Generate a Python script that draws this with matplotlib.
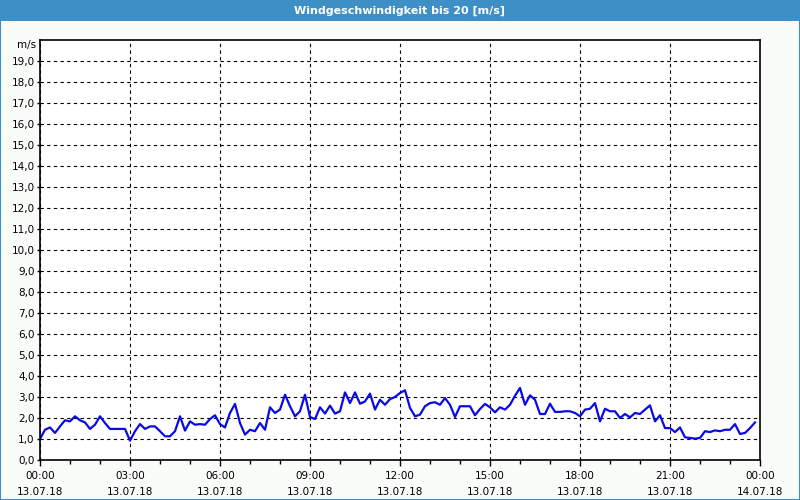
import matplotlib
matplotlib.use("Agg")
import matplotlib.pyplot as plt
import matplotlib.dates as mdates
import pandas as pd
from matplotlib.patches import Rectangle

title = "Windgeschwindigkeit bis 20 [m/s]"
unit = "m/s"

# 10-minute readings, 13.07.18 00:00 .. 23:50
speed = [
    1.00, 1.44, 1.55, 1.29, 1.60, 1.89, 1.84, 2.08, 1.89, 1.79, 1.48, 1.68,
    2.08, 1.76, 1.48, 1.48, 1.48, 1.48, 0.92, 1.37, 1.71, 1.48, 1.60, 1.60,
    1.37, 1.13, 1.13, 1.37, 2.08, 1.40, 1.84, 1.68, 1.71, 1.68, 1.95, 2.13,
    1.71, 1.55, 2.24, 2.67, 1.76, 1.21, 1.44, 1.37, 1.76, 1.44, 2.51, 2.24,
    2.40, 3.11, 2.56, 2.08, 2.32, 3.11, 2.05, 1.95, 2.51, 2.21, 2.59, 2.21,
    2.32, 3.22, 2.71, 3.22, 2.68, 2.79, 3.16, 2.40, 2.87, 2.63, 2.90, 3.00,
    3.19, 3.32, 2.48, 2.08, 2.16, 2.56, 2.71, 2.75, 2.63, 2.95, 2.63, 2.05,
    2.56, 2.56, 2.56, 2.13, 2.43, 2.67, 2.51, 2.27, 2.51, 2.40, 2.63, 3.06,
    3.43, 2.63, 3.08, 2.87, 2.19, 2.19, 2.68, 2.29, 2.29, 2.32, 2.32, 2.24,
    2.08, 2.40, 2.44, 2.71, 1.84, 2.44, 2.32, 2.32, 2.00, 2.19, 2.03, 2.24,
    2.19, 2.40, 2.60, 1.84, 2.13, 1.52, 1.52, 1.33, 1.55, 1.08, 1.05, 1.02,
    1.05, 1.37, 1.33, 1.41, 1.37, 1.44, 1.44, 1.71, 1.24, 1.29, 1.52, 1.79,
]
times = pd.date_range("2018-07-13 00:00", periods=len(speed), freq="10min")
start = pd.Timestamp("2018-07-13 00:00")
end = pd.Timestamp("2018-07-14 00:00")

blue = "#3d8fc6"

fig = plt.figure(figsize=(8, 5), dpi=100, facecolor="#fafcfa")
ax = fig.add_axes([0.05, 0.08, 0.90, 0.84])

# title bar and frame
fig.patches.append(Rectangle((0, 0.958), 1, 0.042, transform=fig.transFigure,
                             facecolor=blue, edgecolor="none"))
fig.patches.append(Rectangle((0.0006, 0.001), 0.9988, 0.998, transform=fig.transFigure,
                             facecolor="none", edgecolor=blue, linewidth=1.5))
fig.text(0.5, 0.979, title, color="white", fontsize=8, fontweight="bold",
         ha="center", va="center")

ax.plot(times, speed, color="#0a0ae6", linewidth=1.6)

ax.set_xlim(start, end)
ax.set_ylim(0, 20)
ax.set_facecolor("white")

ax.set_yticks(range(20))
ax.set_yticklabels([f"{v},0" for v in range(20)], fontsize=7.5)
ax.text(-0.005, 19.75, unit, transform=ax.get_yaxis_transform(), fontsize=7.5,
        ha="right", va="center")

ax.xaxis.set_major_locator(mdates.HourLocator(byhour=range(0, 24, 3)))
ax.xaxis.set_minor_locator(mdates.HourLocator(interval=1))
ax.xaxis.set_major_formatter(mdates.DateFormatter("%H:%M\n%d.%m.%y"))
for lbl in ax.get_xticklabels():
    lbl.set_fontsize(7.5)
    lbl.set_linespacing(1.7)

ax.tick_params(axis="x", which="major", length=4, width=1, pad=4, labelsize=7.5)
ax.tick_params(axis="x", which="minor", length=3, width=1)
ax.tick_params(axis="y", which="major", length=2, width=1, pad=2, labelsize=7.5)

ax.grid(True, which="major", color="black", linestyle=(0, (3, 3)), linewidth=0.8)
for s in ax.spines.values():
    s.set_linewidth(1.2)

fig.savefig("out.png", dpi=100, facecolor=fig.get_facecolor())
